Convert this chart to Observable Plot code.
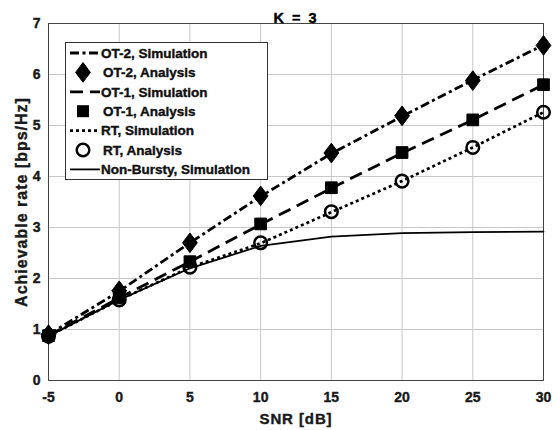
<!DOCTYPE html>
<html><head><meta charset="utf-8">
<script src="https://cdn.jsdelivr.net/npm/d3@7"></script>
<script src="https://cdn.jsdelivr.net/npm/@observablehq/plot@0.6"></script>
<style>
body{margin:0;background:#fff;}
#wrap{position:relative;width:558px;height:430px;}
#wrap svg{position:absolute;left:0;top:0;}
</style></head><body><div id="wrap"></div>
<script>
const snr = [-5, 0, 5, 10, 15, 20, 25, 30];
const ot2Sim = [0.90, 1.75, 2.70, 3.61, 4.45, 5.18, 5.89, 6.58];
const ot2Ana = [0.90, 1.76, 2.70, 3.62, 4.46, 5.19, 5.88, 6.57];
const ot1Sim = [0.88, 1.62, 2.33, 3.06, 3.77, 4.46, 5.11, 5.80];
const ot1Ana = [0.88, 1.62, 2.33, 3.07, 3.78, 4.47, 5.11, 5.80];
const rtSim = [0.87, 1.58, 2.22, 2.69, 3.30, 3.91, 4.57, 5.26];
const rtAna = [0.87, 1.58, 2.22, 2.70, 3.31, 3.91, 4.57, 5.26];
const nbSim = [0.87, 1.58, 2.20, 2.64, 2.82, 2.89, 2.91, 2.92];
const yTicks = [0, 1, 2, 3, 4, 5, 6, 7];
const legendLabels = ["OT-2, Simulation", "OT-2, Analysis", "OT-1, Simulation", "OT-1, Analysis", "RT, Simulation", "RT, Analysis", "Non-Bursty, Simulation"];

const rows = v => snr.map((x, i) => ({x, y: v[i]}));

// wide MATLAB-like diamond (width : height = 0.75)
const wideDiamond = {
  draw(context, size) {
    const h = Math.sqrt(size) * 1.5;
    const w = h * 0.75;
    context.moveTo(0, -h / 2);
    context.lineTo(w / 2, 0);
    context.lineTo(0, h / 2);
    context.lineTo(-w / 2, 0);
    context.closePath();
  }
};
const dashOT2 = "9,3.5,3,3.5", dashOT1 = "13,7", dashRT = "3,3";

const plot = Plot.plot({
  width: 558, height: 430,
  marginTop: 23, marginLeft: 48, marginRight: 15, marginBottom: 50,
  style: {fontFamily: "Liberation Sans", fontSize: "14px", color: "#1a1a1a", background: "#fff"},
  x: {domain: [-5, 30]},
  y: {domain: [0, 7]},
  marks: [
    Plot.gridX(snr, {stroke: "#c8c8c8", strokeOpacity: 1}),
    Plot.gridY(yTicks, {stroke: "#c8c8c8", strokeOpacity: 1}),
    Plot.frame({stroke: "#444", strokeWidth: 1}),
    Plot.axisX({ticks: snr, tickSize: 0, tickPadding: 12, tickFormat: d => String(d),
      label: "SNR [dB]", labelAnchor: "center", labelArrow: "none", labelOffset: 43}),
    Plot.axisY({ticks: yTicks, tickSize: 0, tickPadding: 8, tickFormat: d => String(d),
      label: "Achievable rate [bps/Hz]", labelAnchor: "center", labelArrow: "none", labelOffset: 33}),
    Plot.line(rows(nbSim), {x: "x", y: "y", stroke: "#000", strokeWidth: 1.8}),
    Plot.line(rows(rtSim), {x: "x", y: "y", stroke: "#000", strokeWidth: 2.7, strokeDasharray: dashRT, strokeLinecap: "butt"}),
    Plot.line(rows(ot1Sim), {x: "x", y: "y", stroke: "#000", strokeWidth: 2.8, strokeDasharray: dashOT1, strokeLinecap: "butt"}),
    Plot.line(rows(ot2Sim), {x: "x", y: "y", stroke: "#000", strokeWidth: 2.8, strokeDasharray: dashOT2, strokeLinecap: "butt"}),
    Plot.dot(rows(rtAna), {x: "x", y: "y", symbol: "circle", r: 6.3, stroke: "#000", strokeWidth: 2.5, fill: "none"}),
    Plot.dot(rows(ot1Ana), {x: "x", y: "y", symbol: "square", r: 6.6, fill: "#000", stroke: "#000", strokeWidth: 1}),
    Plot.dot(rows(ot2Ana), {x: "x", y: "y", symbol: wideDiamond, r: 7.4, fill: "#000", stroke: "#000", strokeWidth: 1}),
    Plot.text(["K = 3"], {frameAnchor: "top", dy: -11, fontSize: 14.5, fill: "#000"})
  ]
});
document.getElementById("wrap").appendChild(plot);
const ps = d3.select(plot);
ps.selectAll("text").style("font-family", "Liberation Sans").style("font-weight", "bold")
  .style("fill", "#1a1a1a").style("stroke", "#1a1a1a").style("stroke-width", "0.4px").style("stroke-linejoin", "round");
ps.selectAll('g[aria-label="x-axis tick label"] text, g[aria-label="y-axis tick label"] text').style("font-size", "14px");
ps.selectAll('g[aria-label="x-axis label"] text').style("font-size", "15px").style("letter-spacing", "0.9px");
ps.selectAll('g[aria-label="y-axis label"] text').style("font-size", "16px").style("letter-spacing", "1px");
ps.selectAll('g[aria-label="text"] text').style("letter-spacing", "2px").style("fill", "#000").style("stroke", "#000");

// Legend
const lg = d3.select("#wrap").append("svg")
  .attr("width", 203).attr("height", 138)
  .style("left", "65px").style("top", "42px");
lg.append("rect").attr("x", 0.5).attr("y", 0.5).attr("width", 202).attr("height", 137)
  .attr("fill", "#fff").attr("stroke", "#333");
const styles = [
  {line: dashOT2}, {sym: "diamond"}, {line: dashOT1}, {sym: "square"},
  {line: dashRT}, {sym: "circle"}, {line: null, w: 1.8}
];
styles.forEach((s, i) => {
  const cy = 11 + i * 19.4;
  if (s.sym) {
    const g = lg.append("g").attr("transform", `translate(18,${cy})`);
    if (s.sym === "diamond") g.append("path").attr("d", d3.symbol(wideDiamond, Math.PI * 7.4 * 7.4)()).attr("fill", "#000").attr("stroke", "#000").attr("stroke-width", 1);
    if (s.sym === "square") g.append("rect").attr("x", -6).attr("y", -6).attr("width", 12).attr("height", 12).attr("fill", "#000");
    if (s.sym === "circle") g.append("circle").attr("r", 6.3).attr("fill", "none").attr("stroke", "#000").attr("stroke-width", 2.5);
  } else {
    lg.append("line").attr("x1", 5).attr("x2", 35).attr("y1", cy).attr("y2", cy)
      .attr("stroke", "#000").attr("stroke-width", s.w || 2.8)
      .attr("stroke-dasharray", s.line);
  }
  lg.append("text").attr("x", s.sym ? 38 : 36).attr("y", cy).attr("dy", "0.35em")
    .attr("font-family", "Liberation Sans").attr("font-weight", "bold").attr("font-size", 13.5)
    .attr("fill", "#111").attr("stroke", "#111").attr("stroke-width", 0.4).attr("stroke-linejoin", "round")
    .text(legendLabels[i]);
});
</script></body></html>
